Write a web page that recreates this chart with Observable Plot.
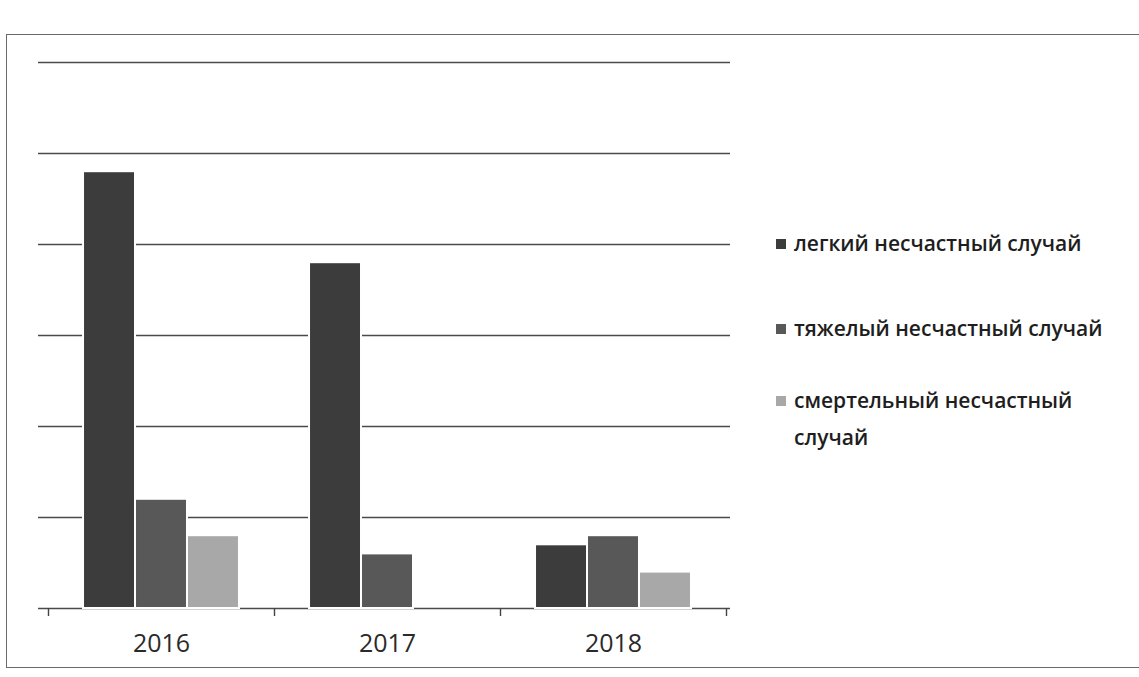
<!DOCTYPE html>
<html><head><meta charset="utf-8">
<script src="https://cdn.jsdelivr.net/npm/d3@7"></script>
<script src="https://cdn.jsdelivr.net/npm/@observablehq/plot@0.6"></script>
<style>
body{margin:0;background:#fff;width:1139px;height:677px;overflow:hidden;position:relative;font-family:"Open Sans",sans-serif;}
#chart{position:absolute;left:0;top:0;}
#frame{position:absolute;left:6px;top:34px;width:1200px;height:634px;border:1.5px solid #6a6a6a;box-sizing:border-box;}
#legend{position:absolute;left:776px;top:0;color:#1e1e1e;font-size:21px;font-weight:600;}
.item{position:absolute;left:0;white-space:nowrap;}
.sw{position:absolute;left:0;width:10px;height:10px;}
.tx{position:absolute;left:18px;line-height:37px;}
</style></head>
<body>
<div id="frame"></div>
<div id="chart"></div>
<div id="legend"></div>
<script>
const years = [2016, 2017, 2018];
const series = ["легкий несчастный случай", "тяжелый несчастный случай", "смертельный несчастный случай"];
const light = [48, 38, 7];
const severe = [12, 6, 8];
const fatal = [8, 0, 4];
const gridTicks = [0, 10, 20, 30, 40, 50, 60];
const colors = ["#3c3c3c", "#585858", "#a8a8a8"];

const values = [light, severe, fatal];
const rows = [];
years.forEach((y, i) => values.forEach((v, s) => {
  if (v[i] > 0) rows.push({year: y, series: series[s], s, value: v[i]});
}));
const barW = 0.23;

const chart = Plot.plot({
  width: 1139, height: 677,
  marginLeft: 48, marginRight: 413, marginTop: 62, marginBottom: 69,
  x: {domain: [2015.5, 2018.5], axis: null},
  y: {domain: [0, 60], axis: null},
  color: {domain: series, range: colors},
  marks: [
    Plot.ruleY(gridTicks, {stroke: "#4a4a4a", strokeWidth: 1.4, insetLeft: -10, insetRight: -4}),
    Plot.rectY(rows, {
      x1: d => d.year - 1.5 * barW + d.s * barW,
      x2: d => d.year - 0.5 * barW + d.s * barW,
      y1: 0, y2: "value", fill: "series",
      stroke: "#fff", strokeWidth: 2
    }),
    Plot.axisX({ticks: [2015.5, 2016.5, 2017.5, 2018.5], tickFormat: () => "", tickSize: 8, stroke: "#444", strokeWidth: 1.4}),
    Plot.axisX({ticks: years, tickFormat: d => String(d), tickSize: 0, tickPadding: 26, fontSize: 25, fill: "#2a2a2a", fontFamily: "Open Sans"})
  ]
});
document.getElementById("chart").appendChild(chart);

const legendItems = [
  {lines: ["легкий несчастный случай"], top: 225},
  {lines: ["тяжелый несчастный случай"], top: 310},
  {lines: ["смертельный несчастный", "случай"], top: 382}
];
const lg = document.getElementById("legend");
legendItems.forEach((it, i) => {
  const d = document.createElement("div");
  d.className = "item";
  d.style.top = it.top + "px";
  const sw = document.createElement("div");
  sw.className = "sw"; sw.style.background = colors[i]; sw.style.top = "14px";
  const tx = document.createElement("div");
  tx.className = "tx";
  tx.innerHTML = it.lines.join("<br>");
  d.appendChild(sw); d.appendChild(tx);
  lg.appendChild(d);
});
</script>
</body></html>
